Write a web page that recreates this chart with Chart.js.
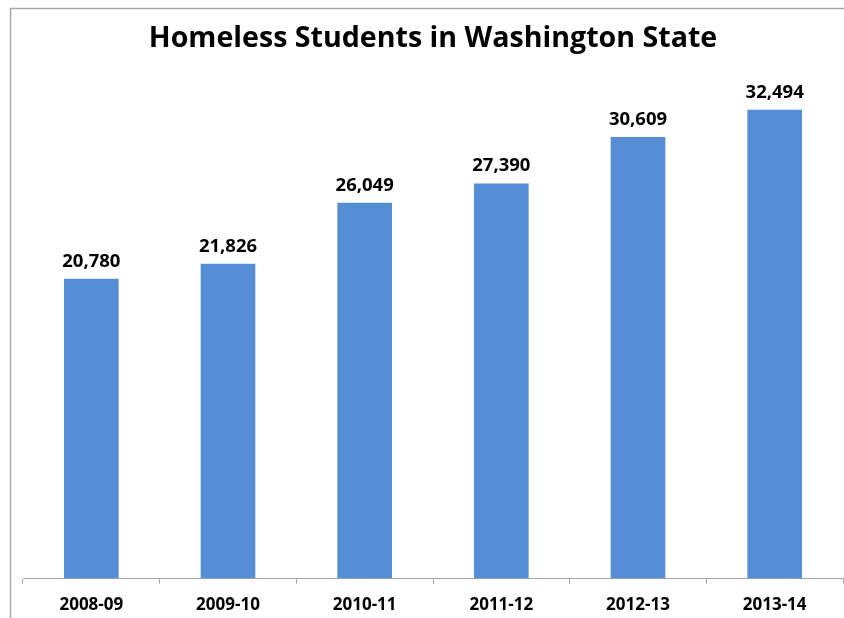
<!DOCTYPE html>
<html>
<head>
<meta charset="utf-8">
<script src="https://cdn.jsdelivr.net/npm/chart.js@4/dist/chart.umd.min.js"></script>
<style>
  html, body { margin: 0; padding: 0; background: #fff; }
  #wrap { width: 844px; height: 618px; position: relative; }
</style>
</head>
<body>
<div id="wrap"><canvas id="chart1"></canvas></div>
<script>
// school years and homeless student counts
var years = ['2008-09', '2009-10', '2010-11', '2011-12', '2012-13', '2013-14'];
var students = [20780, 21826, 26049, 27390, 30609, 32494];

var fontName = '"Open Sans", Lato, sans-serif';

// gray frame on top and left side, like the original picture
var framePlugin = {
  id: 'frame',
  beforeDraw: function(chart) {
    var ctx = chart.ctx;
    ctx.save();
    ctx.strokeStyle = '#a6a6a6';
    ctx.lineWidth = 1.5;
    ctx.beginPath();
    ctx.moveTo(10.5, 618);
    ctx.lineTo(10.5, 8.5);
    ctx.lineTo(844, 8.5);
    ctx.stroke();
    ctx.restore();
  }
};

// numbers above the bars
var valueLabels = {
  id: 'valueLabels',
  afterDatasetsDraw: function(chart) {
    var ctx = chart.ctx;
    var meta = chart.getDatasetMeta(0);
    ctx.save();
    ctx.font = 'bold 18.5px ' + fontName;
    ctx.fillStyle = '#000';
    ctx.textAlign = 'center';
    ctx.textBaseline = 'alphabetic';
    meta.data.forEach(function(bar, i) {
      ctx.fillText(students[i].toLocaleString('en-US'), bar.x, bar.y - 12);
    });
    ctx.restore();
  }
};

var chart1 = new Chart('chart1', {
  type: 'bar',
  data: {
    labels: years,
    datasets: [{
      label: 'Homeless students',
      data: students,
      backgroundColor: '#558ed5',
      barPercentage: 0.4,
      categoryPercentage: 1.0
    }]
  },
  options: {
    responsive: true,
    maintainAspectRatio: false,
    animation: false,
    layout: { padding: { left: 23, right: 1, top: 0, bottom: -8 } },
    plugins: {
      legend: { display: false },
      tooltip: { enabled: false },
      title: {
        display: true,
        text: 'Homeless Students in Washington State',
        color: '#000',
        font: { family: fontName, size: 28.6, weight: 'bold' },
        padding: { top: 22, bottom: 17.3 }
      }
    },
    scales: {
      x: {
        grid: {
          display: true,
          drawOnChartArea: false,
          tickLength: 5,
          color: '#a6a6a6'
        },
        border: { display: true, color: '#a6a6a6', width: 1 },
        ticks: {
          color: '#000',
          padding: 11,
          font: { family: fontName, size: 17, weight: 'bold' },
          maxRotation: 0
        }
      },
      y: {
        display: false,
        min: 0,
        max: 35000
      }
    }
  },
  plugins: [framePlugin, valueLabels]
});
</script>
</body>
</html>
